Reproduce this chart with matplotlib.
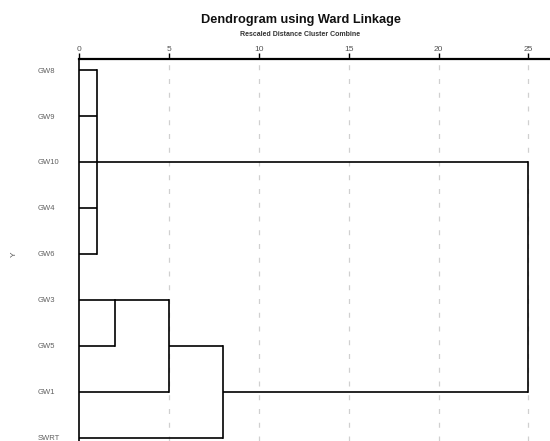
import matplotlib
matplotlib.use("Agg")
import matplotlib.pyplot as plt

plt.rcParams['font.family'] = ['Liberation Sans', 'DejaVu Sans']

# ---- data ----
leaves = ['GW8', 'GW9', 'GW10', 'GW4', 'GW6', 'GW3', 'GW5', 'GW1', 'SWRT']
# each merge joins the listed nodes (leaves 0..8, new clusters 9..)
merge_members = [[0, 1, 2, 3, 4], [5, 6], [10, 7], [11, 8], [9, 12]]
merge_heights = [1.0, 2.0, 5.0, 8.0, 25.0]
x_ticks = [0, 5, 10, 15, 20, 25]
x_ticklabels = ['0', '5', '10', '15', '20', '25']

W, H = 550, 441
fig = plt.figure(figsize=(W / 100, H / 100), dpi=100)
left_px, top_px = 79, 59
ax = fig.add_axes([left_px / W, 0, 1 - left_px / W, 1 - top_px / H])

ax.set_xlim(0, 26.2)
ax.set_ylim(8.07, -0.24)

# grid
for t in x_ticks[1:]:
    ax.axvline(t, color='#d0d0d0', lw=0.9, linestyle=(0, (4, 7)), zorder=0)

lw = 1.2
rep = {i: i for i in range(len(leaves))}
hgt = {i: 0.0 for i in range(len(leaves))}
node = len(leaves)
for members, h in zip(merge_members, merge_heights):
    rows = []
    for m in members:
        r = rep[m]
        ax.plot([hgt[m], h], [r, r], color='black', lw=lw, solid_capstyle='butt', zorder=3)
        rows.append(r)
    lo, hi = min(rows), max(rows)
    ax.plot([h, h], [lo, hi], color='black', lw=lw, solid_capstyle='projecting', zorder=3)
    rep[node] = int((lo + hi) // 2)
    hgt[node] = h
    node += 1

# spines / ticks
for s in ['right', 'bottom']:
    ax.spines[s].set_visible(False)
ax.spines['top'].set_linewidth(1.6)
ax.spines['left'].set_linewidth(1.2)
ax.xaxis.tick_top()
ax.set_xticks(x_ticks)
ax.set_xticklabels(x_ticklabels, fontsize=6, color='#555555')
ax.tick_params(axis='x', direction='out', length=4, width=1.0, pad=0.5, colors='black', labelcolor='#555555')

ax.set_yticks(range(len(leaves)))
ax.set_yticklabels(leaves, fontsize=5.5, color='#606060', ha='left')
ax.tick_params(axis='y', length=0, pad=30)

ax.set_ylabel('Y', fontsize=6, color='#555555', rotation=90)
ax.yaxis.set_label_coords(-61 / (W - left_px), 0.49)

fig.text(301 / W, 1 - 20 / H, 'Dendrogram using Ward Linkage', ha='center', va='center',
         fontsize=9.2, fontweight='bold', color='#111111')
fig.text(300 / W, 1 - 34 / H, 'Rescaled Distance Cluster Combine', ha='center', va='center',
         fontsize=5, fontweight='bold', color='#333333')

fig.savefig('out.png', dpi=100)
